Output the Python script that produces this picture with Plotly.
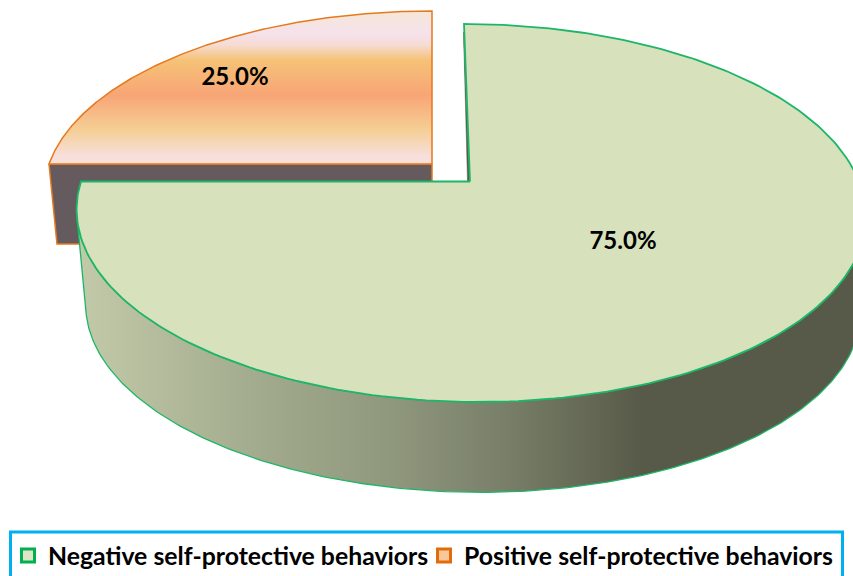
import numpy as np
import plotly.graph_objects as go

# ---- data ----
CATEGORIES = ["Negative self-protective behaviors", "Positive self-protective behaviors"]
VALUES = [75.0, 25.0]

# ---- geometry of the projected pie (pixel scale) ----
W, H = 853, 576
K = 1 / 6          # perspective strength
START_DEG = 90     # first slice starts at 12 o'clock, clockwise
GREEN_TOP = dict(cx=470.0, cy=181.5, rx=389.0, ry=183.75, shear=7.0)
GREEN_BOTTOM = dict(cx=472.0, cy=277.5, rx=382.0, ry=179.0, shear=7.0)
ORANGE_TOP = dict(cx=432.0, cy=164.0, rx=383.0, ry=178.5, shear=0.0)
ORANGE_DROP = (8.0, 80.0)
WALL_FROM, WALL_TO = -170.0, -10.0


def project(deg, g):
    t = np.radians(deg)
    X, Y = np.cos(t), np.sin(t)
    w = 1 + K * Y
    return g["cx"] + (g["rx"] * X - g["shear"] * Y) / w, g["cy"] - g["ry"] * Y / w


def wedge(a0, a1, g):
    x, y = project(np.linspace(a0, a1, 240), g)
    return ([g["cx"], *x, g["cx"]], [g["cy"], *y, g["cy"]])


total = sum(VALUES)
sweeps = [360 * v / total for v in VALUES]
g_a0, g_a1 = START_DEG, START_DEG - sweeps[0]
o_a0, o_a1 = g_a1, g_a1 - sweeps[1]

BORDER_G, BORDER_O = "#1db668", "#e5791f"
FACE_G = "#d7e1bb"
WALL_O = "#655b5f"

fig = go.Figure()

# legend entries
for name, fc, lc in zip(CATEGORIES, ["#dfe6c8", "#f9c79a"], ["#00b050", "#e36c0a"]):
    fig.add_trace(go.Scatter(x=[None], y=[None], mode="markers", name=name,
                             marker=dict(symbol="square", size=13, color=fc,
                                         line=dict(color=lc, width=3))))

# orange slice: side wall then top
ox, oy = wedge(o_a0, o_a1, ORANGE_TOP)
lx, ly = ox[1], oy[1]
dx, dy = ORANGE_DROP
fig.add_trace(go.Scatter(
    x=[lx, lx + dx, ORANGE_TOP["cx"], ORANGE_TOP["cx"], lx],
    y=[ly, ly + dy, ly + dy, ly, ly],
    mode="lines", fill="toself", fillcolor=WALL_O,
    line=dict(color=BORDER_O, width=1.5), showlegend=False, hoverinfo="skip"))
fig.add_trace(go.Scatter(
    x=ox, y=oy, mode="lines", fill="toself",
    fillgradient=dict(type="vertical", start=11, stop=164, colorscale=[
        [0.00, "#f6e7d6"], [0.15, "#f6e1ec"], [0.22, "#f6dcd4"], [0.32, "#f5c277"],
        [0.55, "#f8a576"], [0.78, "#f5cf95"], [0.95, "#f7dfdc"], [1.00, "#f7dfdc"]]),
    line=dict(color=BORDER_O, width=1.5), showlegend=False, hoverinfo="skip"))

# green slice: outer wall
wa = np.linspace(WALL_FROM, WALL_TO, 240)
tx, ty = project(wa, GREEN_TOP)
bx, by = project(wa[::-1], GREEN_BOTTOM)
fig.add_trace(go.Scatter(
    x=[*tx, *bx, tx[0]], y=[*ty, *by, ty[0]], mode="lines", fill="toself",
    fillgradient=dict(type="horizontal", start=77, stop=860, colorscale=[
        [0.00, "#c2caa9"], [0.23, "#a3ab8e"], [0.41, "#8e967c"], [0.55, "#787e68"],
        [0.72, "#575a48"], [1.00, "#575a48"]]),
    line=dict(color=BORDER_G, width=1.3), showlegend=False, hoverinfo="skip"))

# green slice: inner sliver of the cut face
rx0, ry0 = project(float(g_a0), GREEN_TOP)
fig.add_trace(go.Scatter(
    x=[rx0 - 0.5, GREEN_TOP["cx"] - 2.5, GREEN_TOP["cx"], rx0 - 0.5],
    y=[ry0 + 8, GREEN_TOP["cy"], GREEN_TOP["cy"], ry0 + 8],
    mode="lines", fill="toself", fillcolor="#575a48",
    line=dict(color="#575a48", width=0.5), showlegend=False, hoverinfo="skip"))

# green slice: top
gx, gy = wedge(g_a0, g_a1, GREEN_TOP)
fig.add_trace(go.Scatter(
    x=gx, y=gy, mode="lines", fill="toself", fillcolor=FACE_G,
    line=dict(color=BORDER_G, width=1.8), showlegend=False, hoverinfo="skip"))

# percentage labels
pct = [f"{100 * v / total:.1f}%" for v in VALUES]
fig.add_trace(go.Scatter(
    x=[623, 235], y=[243, 79], mode="text", text=pct,
    textfont=dict(family="Lato", size=24, color="#000000", weight="bold"),
    showlegend=False, hoverinfo="skip"))

fig.update_layout(
    width=W, height=H, autosize=False,
    margin=dict(l=0, r=0, t=0, b=0, autoexpand=False),
    paper_bgcolor="#ffffff", plot_bgcolor="#ffffff",
    xaxis=dict(range=[0, W], visible=False, fixedrange=True),
    yaxis=dict(range=[H, 0], visible=False, fixedrange=True),
    shapes=[dict(type="rect", xref="x", yref="y", x0=10.5, x1=842.5, y0=532, y1=580,
                 line=dict(color="#00b0f0", width=3), fillcolor="rgba(0,0,0,0)", layer="above")],
    legend=dict(orientation="h", x=8 / W, y=1 - 533 / H, xanchor="left", yanchor="top",
                bgcolor="rgba(0,0,0,0)", borderwidth=0, itemsizing="trace",
                entrywidth=371, entrywidthmode="pixels",
                tracegroupgap=0, itemclick=False, itemdoubleclick=False,
                font=dict(family="Lato", size=24.8, color="#000000", weight="bold")),
)

fig.write_html("out.html", config={"displayModeBar": False},
               post_script="document.body.style.margin='0';document.documentElement.style.overflow='hidden';")
